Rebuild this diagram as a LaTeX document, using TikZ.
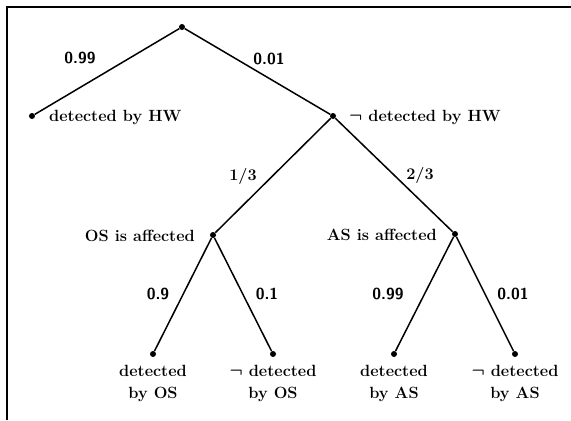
\documentclass[tikz,border=0pt]{standalone}
\usepackage{amsmath}
\begin{document}
\begin{tikzpicture}[x=1bp,y=-1bp,
  dot/.style={circle,fill=black,inner sep=0pt,minimum size=6bp},
  branch/.style={line width=1.5bp},
  txt/.style={inner sep=0pt,font=\fontsize{16.3}{22}\selectfont\bfseries\boldmath},
  prob/.style={inner sep=0pt,font=\fontsize{16}{19}\selectfont\sffamily\bfseries},
  frac/.style={txt},
  leaf/.style={txt,align=center,anchor=north}]
  \useasboundingbox (0,0) rectangle (571,420);
  % frame
  \draw[line width=1.8bp] (7,420) -- (7,7) -- (571,7);
  % tree vertices
  \node[dot] (r)   at (182,27)  {};
  \node[dot] (hw)  at (32,116)  {};
  \node[dot] (nhw) at (333,116) {};
  \node[dot] (os)  at (213,235) {};
  \node[dot] (as)  at (455,234) {};
  \node[dot] (l1)  at (153,354) {};
  \node[dot] (l2)  at (273,354) {};
  \node[dot] (l3)  at (394,354) {};
  \node[dot] (l4)  at (515,354) {};
  % branches
  \draw[branch] (r) -- (hw);
  \draw[branch] (r) -- (nhw);
  \draw[branch] (nhw) -- (os);
  \draw[branch] (nhw) -- (as);
  \draw[branch] (os) -- (l1);
  \draw[branch] (os) -- (l2);
  \draw[branch] (as) -- (l3);
  \draw[branch] (as) -- (l4);
  % probabilities
  \node[prob] (p1) at (80,58)   {0.99};
  \node[prob] (p2) at (269,59)  {0.01};
  \node[frac] (p3) at (243,176) {1/3};
  \node[frac] (p4) at (420,175) {2/3};
  \node[prob] (p5) at (158,294) {0.9};
  \node[prob] (p6) at (267,294) {0.1};
  \node[prob] (p7) at (388,294) {0.99};
  \node[prob] (p8) at (513,294) {0.01};
  % outcome labels
  \node[txt,anchor=west] (thw)  at (49,117)  {detected by HW};
  \node[txt,anchor=west] (tnhw) at (349,117) {$\neg$ detected by HW};
  \node[txt,anchor=east] (tos)  at (195,236) {OS is affected};
  \node[txt,anchor=east] (tas)  at (437,235) {AS is affected};
  \node[leaf] (t1) at (153,365) {detected\\by OS};
  \node[leaf] (t2) at (273,365) {$\neg$ detected\\by OS};
  \node[leaf] (t3) at (394,365) {detected\\by AS};
  \node[leaf] (t4) at (515,365) {$\neg$ detected\\by AS};
\end{tikzpicture}
\end{document}
